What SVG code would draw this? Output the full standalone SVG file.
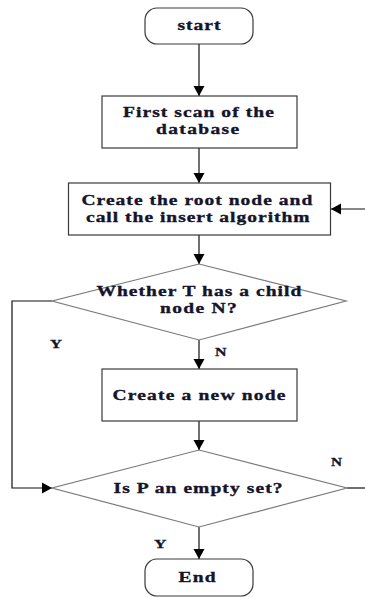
<svg xmlns="http://www.w3.org/2000/svg" width="365" height="597" viewBox="0 0 365 597">
  <style>
    .box { fill: #fff; stroke: #3a3a3a; stroke-width: 1.2; }
    .dia { fill: #fff; stroke: #7a7a7a; stroke-width: 1.2; }
    .lbl { font-family: "Liberation Serif", "Times New Roman", serif; font-weight: bold; font-size: 15px; fill: #14142a; stroke: #14142a; stroke-width: 0.35; }
    .yn { font-family: "Liberation Serif", "Times New Roman", serif; font-weight: bold; font-size: 13px; fill: #14142a; stroke: #14142a; stroke-width: 0.3; }
    .conn { fill: none; stroke: #111; stroke-width: 1.2; }
  </style>
  <defs>
    <marker id="arrow" markerUnits="userSpaceOnUse" markerWidth="12" markerHeight="12" refX="10" refY="6" orient="auto">
      <path d="M0,0.5 L10,6 L0,11.5 Z" fill="#000"/>
    </marker>
  </defs>
  <rect width="365" height="597" fill="#fff"/>

  <!-- connectors -->
  <g id="connectors">
    <line class="conn" x1="199" y1="44" x2="199" y2="96" marker-end="url(#arrow)"/>
    <line class="conn" x1="199" y1="148" x2="199" y2="183" marker-end="url(#arrow)"/>
    <line class="conn" x1="365" y1="209" x2="331" y2="209" marker-end="url(#arrow)"/>
    <line class="conn" x1="199" y1="235" x2="199" y2="264" marker-end="url(#arrow)"/>
    <line class="conn" x1="199" y1="340" x2="199" y2="369" marker-end="url(#arrow)"/>
    <polyline class="conn" points="52,301 12,301 12,488 52,488" marker-end="url(#arrow)"/>
    <line class="conn" x1="199" y1="421" x2="199" y2="450" marker-end="url(#arrow)"/>
    <line class="conn" x1="347" y1="488" x2="365" y2="488"/>
    <line class="conn" x1="199" y1="527" x2="199" y2="559" marker-end="url(#arrow)"/>
    <text class="yn" x="50" y="348" textLength="12" lengthAdjust="spacingAndGlyphs">Y</text>
    <text class="yn" x="215" y="355.5" textLength="11.5" lengthAdjust="spacingAndGlyphs">N</text>
    <text class="yn" x="331" y="466" textLength="11" lengthAdjust="spacingAndGlyphs">N</text>
    <text class="yn" x="154" y="548" textLength="12.5" lengthAdjust="spacingAndGlyphs">Y</text>
  </g>

  <!-- start terminal -->
  <g id="start">
    <rect class="box" x="145" y="8" width="108" height="36" rx="12"/>
    <text class="lbl" transform="translate(177.5,29.5) scale(1.3,1)" textLength="33" lengthAdjust="spacing">start</text>
  </g>

  <!-- first scan -->
  <g id="scan">
    <rect class="box" x="102" y="96" width="195" height="52"/>
    <text class="lbl" transform="translate(123,117) scale(1.3,1)" textLength="116" lengthAdjust="spacing">First scan of the</text>
    <text class="lbl" transform="translate(156,134) scale(1.3,1)" textLength="64" lengthAdjust="spacing">database</text>
  </g>

  <!-- root node creation -->
  <g id="create-root">
    <rect class="box" x="68.5" y="183" width="262" height="52"/>
    <text class="lbl" transform="translate(81.5,205) scale(1.3,1)" textLength="177.5" lengthAdjust="spacing">Create the root node and</text>
    <text class="lbl" transform="translate(86,222) scale(1.3,1)" textLength="172" lengthAdjust="spacing">call the insert algorithm</text>
  </g>

  <!-- child check -->
  <g id="has-child">
    <polygon class="dia" points="199,264 346,301 199,340 52,301"/>
    <text class="lbl" transform="translate(96.5,296) scale(1.3,1)" textLength="157.5" lengthAdjust="spacing">Whether T has a child</text>
    <text class="lbl" transform="translate(160,312.5) scale(1.3,1)" textLength="59" lengthAdjust="spacing">node N?</text>
  </g>

  <!-- new node -->
  <g id="new-node">
    <rect class="box" x="102" y="369" width="195" height="52"/>
    <text class="lbl" transform="translate(112.5,400) scale(1.3,1)" textLength="133" lengthAdjust="spacing">Create a new node</text>
  </g>

  <!-- empty set check -->
  <g id="empty-set">
    <polygon class="dia" points="199,450 347,488 199,527 52,488"/>
    <text class="lbl" transform="translate(113.5,492.5) scale(1.3,1)" textLength="130" lengthAdjust="spacing">Is P an empty set?</text>
  </g>

  <!-- end terminal -->
  <g id="end">
    <rect class="box" x="145" y="559" width="108" height="37" rx="12"/>
    <text class="lbl" transform="translate(178.5,581.5) scale(1.3,1)" textLength="28.5" lengthAdjust="spacing">End</text>
  </g>
</svg>
